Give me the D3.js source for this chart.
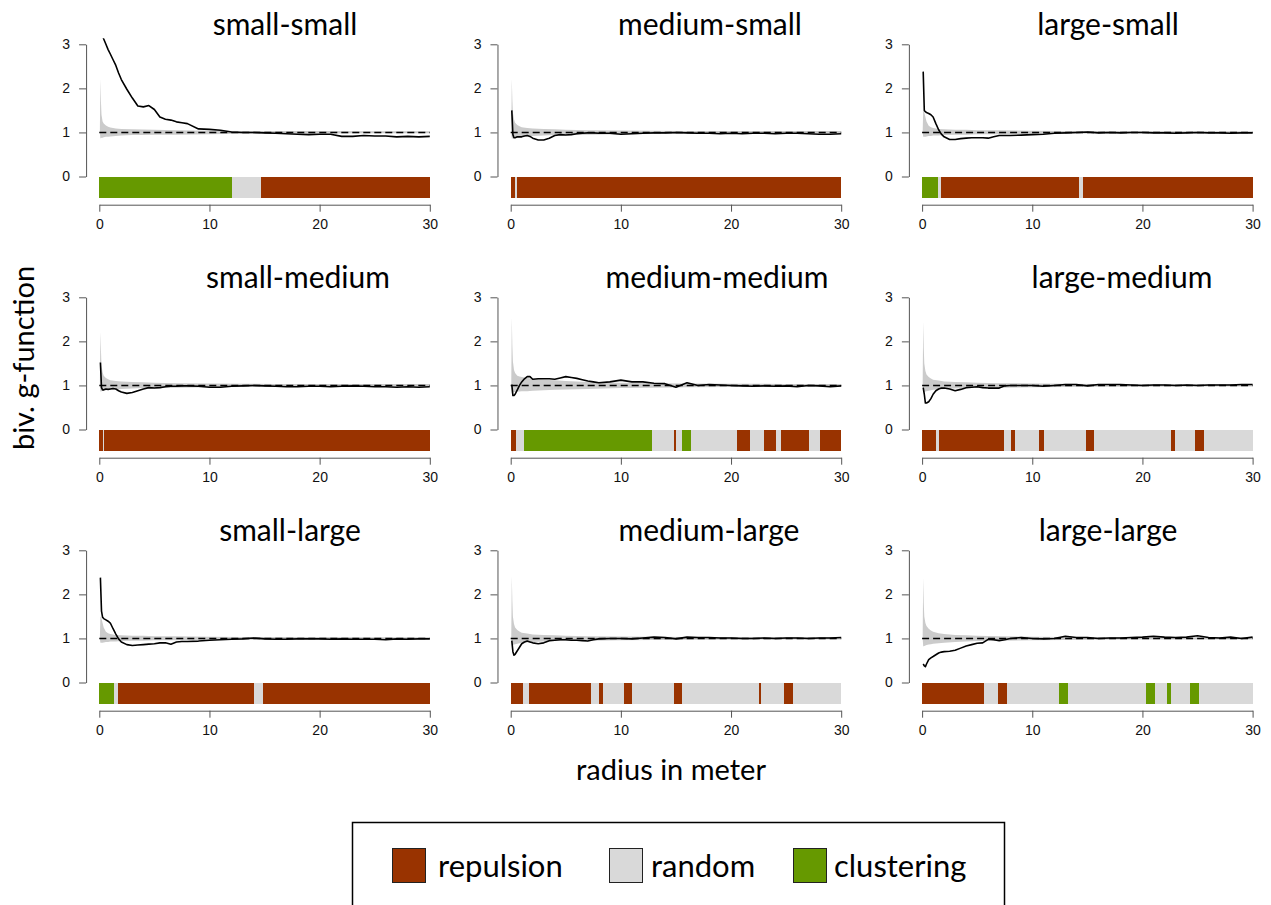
<!DOCTYPE html>
<html><head><meta charset="utf-8">
<script src="https://cdn.jsdelivr.net/npm/d3@7"></script>
<style>body{margin:0;background:#fff}</style>
</head><body><svg id="c" width="1271" height="905"></svg>
<script>
// ---------- DATA ----------
const panelNames = ["small-small","medium-small","large-small",
                    "small-medium","medium-medium","large-medium",
                    "small-large","medium-large","large-large"];
const yTicks = [0,1,2,3];
const xTicks = [0,10,20,30];
const legendLabels = ["repulsion","random","clustering"];

// radius grid for the observed g-function
const radius = [0.1,0.2,0.3,0.4,0.6,0.8,1,1.25,1.5,1.75,2,2.5,3,3.5,4,4.5,5,5.5,6,6.5,7,7.5,8,9,10,11,12,13,14,15,16,17,18,19,20,21,22,23,24,25,26,27,28,29,30];
const gSS = [3.5,3.35,3.2,3.12,3.0,2.88,2.78,2.65,2.52,2.35,2.2,1.98,1.78,1.6,1.58,1.61,1.52,1.35,1.3,1.28,1.24,1.22,1.2,1.08,1.07,1.05,1.01,1.0,1.0,0.99,0.98,0.97,0.96,0.95,0.96,0.96,0.91,0.91,0.93,0.92,0.92,0.9,0.91,0.9,0.91];
const gMS = [1.5,0.95,0.88,0.88,0.9,0.9,0.9,0.92,0.93,0.91,0.87,0.83,0.83,0.87,0.93,0.95,0.94,0.95,0.97,0.98,0.99,0.99,0.98,0.98,0.96,0.97,0.98,0.99,0.99,1.0,0.99,0.98,0.98,0.97,0.98,0.97,0.98,0.98,0.97,0.98,0.98,0.97,0.96,0.96,0.97];
const gLS = [2.38,1.5,1.47,1.45,1.43,1.4,1.35,1.2,1.06,0.96,0.9,0.84,0.84,0.86,0.87,0.88,0.88,0.88,0.87,0.9,0.93,0.93,0.93,0.94,0.95,0.96,0.98,0.99,1.0,1.01,0.99,1.0,0.99,1.0,1.0,0.99,0.99,0.98,0.99,1.0,0.99,0.99,0.98,0.99,0.99];
const gSM = [1.52,0.95,0.9,0.9,0.92,0.91,0.92,0.93,0.92,0.88,0.85,0.82,0.84,0.88,0.92,0.95,0.94,0.95,0.97,0.98,0.98,0.99,0.99,0.98,0.96,0.96,0.98,0.99,1.0,0.99,0.98,0.97,0.97,0.98,0.98,0.97,0.98,0.99,0.98,0.97,0.97,0.96,0.97,0.96,0.97];
const gMM = [1.02,0.77,0.77,0.8,0.9,1.0,1.08,1.15,1.2,1.2,1.14,1.15,1.15,1.15,1.14,1.17,1.2,1.18,1.16,1.13,1.1,1.08,1.06,1.08,1.12,1.08,1.08,1.05,1.04,0.96,1.06,1.0,1.02,1.01,1.0,0.99,0.98,0.99,0.98,0.99,0.97,1.0,0.99,0.97,0.99];
const gLM = [0.95,0.8,0.6,0.6,0.63,0.7,0.8,0.88,0.92,0.94,0.94,0.92,0.88,0.91,0.95,0.96,0.97,0.95,0.94,0.94,0.94,0.99,1.0,1.0,1.0,0.98,1.0,1.02,1.02,0.99,1.02,1.02,1.02,1.01,1.0,1.01,1.01,1.0,1.01,1.0,1.01,1.01,1.01,1.02,1.02];
const gSL = [2.38,1.62,1.48,1.45,1.42,1.39,1.35,1.22,1.1,0.99,0.92,0.86,0.84,0.85,0.86,0.87,0.88,0.9,0.9,0.87,0.92,0.93,0.93,0.94,0.96,0.97,0.98,0.99,1.01,0.99,0.98,0.98,0.99,0.99,0.99,0.98,0.99,0.98,0.98,0.98,0.97,0.99,0.98,0.99,0.99];
const gML = [0.95,0.7,0.62,0.64,0.72,0.8,0.88,0.92,0.94,0.92,0.9,0.88,0.9,0.95,0.96,0.97,0.97,0.96,0.96,0.95,0.94,0.97,0.99,1.0,1.0,0.99,1.01,1.03,1.02,0.99,1.03,1.02,1.02,1.01,1.01,1.0,1.0,1.01,1.0,1.01,1.01,1.0,1.01,1.01,1.02];
const gLL = [0.42,0.38,0.36,0.42,0.52,0.56,0.59,0.63,0.67,0.69,0.7,0.71,0.73,0.78,0.83,0.86,0.89,0.9,0.98,0.97,0.95,0.97,1.0,1.02,1.0,0.99,1.0,1.05,1.02,1.02,1.0,1.01,1.01,1.02,1.03,1.05,1.03,1.02,1.03,1.06,1.02,1.01,1.03,1.0,1.03];

// simulation envelope (upper / lower)
const envR = [0.05,0.1,0.15,0.2,0.3,0.4,0.6,0.8,1,1.5,2,3,4,5,7,10,13,16,20,25,30];
const hiSS = [1.0,2.22,1.7,1.4,1.25,1.2,1.16,1.13,1.11,1.09,1.08,1.07,1.065,1.06,1.05,1.04,1.035,1.03,1.03,1.025,1.025];
const loSS = [1.0,0.87,0.87,0.88,0.88,0.89,0.9,0.9,0.91,0.92,0.93,0.94,0.94,0.95,0.95,0.96,0.97,0.97,0.975,0.98,0.98];
const hiMS = [1.0,2.22,1.75,1.45,1.3,1.22,1.17,1.14,1.12,1.1,1.09,1.08,1.07,1.06,1.05,1.045,1.04,1.035,1.03,1.03,1.03];
const loMS = [1.0,0.86,0.86,0.87,0.88,0.88,0.89,0.9,0.9,0.91,0.92,0.93,0.94,0.94,0.95,0.96,0.965,0.97,0.97,0.975,0.975];
const hiLS = [1.0,1.5,1.48,1.45,1.35,1.25,1.15,1.12,1.1,1.08,1.07,1.06,1.06,1.05,1.05,1.04,1.035,1.03,1.03,1.025,1.025];
const loLS = [1.0,0.9,0.9,0.9,0.9,0.91,0.92,0.92,0.93,0.93,0.94,0.95,0.95,0.96,0.96,0.97,0.97,0.975,0.975,0.98,0.98];
const hiSM = [1.0,2.22,1.8,1.45,1.3,1.22,1.17,1.14,1.12,1.1,1.09,1.08,1.07,1.06,1.05,1.045,1.04,1.035,1.03,1.03,1.03];
const loSM = [1.0,0.86,0.86,0.87,0.88,0.88,0.89,0.9,0.9,0.91,0.92,0.93,0.94,0.94,0.95,0.96,0.965,0.97,0.97,0.975,0.975];
const hiMM = [1.0,2.55,1.9,1.55,1.35,1.28,1.22,1.2,1.19,1.17,1.15,1.13,1.12,1.1,1.08,1.06,1.05,1.045,1.04,1.035,1.035];
const loMM = [1.0,0.83,0.83,0.84,0.85,0.85,0.86,0.86,0.87,0.87,0.88,0.89,0.9,0.91,0.92,0.94,0.95,0.96,0.965,0.97,0.97];
const hiLM = [1.0,2.45,1.85,1.5,1.33,1.25,1.19,1.16,1.13,1.11,1.09,1.08,1.07,1.06,1.05,1.045,1.04,1.035,1.03,1.03,1.03];
const loLM = [1.0,0.84,0.84,0.85,0.86,0.87,0.88,0.89,0.9,0.91,0.92,0.93,0.94,0.94,0.95,0.96,0.965,0.97,0.97,0.975,0.975];
const hiSL = [1.0,1.5,1.48,1.45,1.35,1.25,1.15,1.12,1.1,1.08,1.07,1.06,1.06,1.05,1.05,1.04,1.035,1.03,1.03,1.025,1.025];
const loSL = [1.0,0.9,0.9,0.9,0.9,0.91,0.92,0.92,0.93,0.93,0.94,0.95,0.95,0.96,0.96,0.97,0.97,0.975,0.975,0.98,0.98];
const hiML = [1.0,2.42,1.85,1.5,1.33,1.25,1.19,1.16,1.13,1.11,1.09,1.08,1.07,1.06,1.05,1.045,1.04,1.035,1.03,1.03,1.03];
const loML = [1.0,0.84,0.84,0.85,0.86,0.87,0.88,0.89,0.9,0.91,0.92,0.93,0.94,0.94,0.95,0.96,0.965,0.97,0.97,0.975,0.975];
const hiLL = [1.0,2.38,1.8,1.5,1.35,1.28,1.22,1.18,1.15,1.12,1.1,1.08,1.07,1.06,1.05,1.04,1.035,1.03,1.03,1.025,1.025];
const loLL = [1.0,0.82,0.82,0.83,0.84,0.85,0.86,0.87,0.88,0.89,0.9,0.92,0.93,0.94,0.95,0.96,0.965,0.97,0.975,0.975,0.975];

// classification bars: [from, to, class]  r = repulsion, n = random, c = clustering
const segSS = [[0,12.04,"c"],[12.04,14.71,"n"],[14.71,30,"r"]];
const segMS = [[0,0.39,"r"],[0.39,0.54,"n"],[0.54,30,"r"]];
const segLS = [[0,1.42,"c"],[1.42,1.72,"n"],[1.72,14.26,"r"],[14.26,14.65,"n"],[14.65,30,"r"]];
const segSM = [[0,0.3,"r"],[0.3,0.45,"n"],[0.45,30,"r"]];
const segMM = [[0,0.48,"r"],[0.48,1.24,"n"],[1.24,12.81,"c"],[12.81,14.86,"n"],[14.86,14.98,"r"],[14.98,15.56,"n"],[15.56,16.37,"c"],[16.37,20.5,"n"],[20.5,21.7,"r"],[21.7,23.0,"n"],[23.0,24.06,"r"],[24.06,24.57,"n"],[24.57,27.07,"r"],[27.07,28.07,"n"],[28.07,30,"r"]];
const segLM = [[0,1.27,"r"],[1.27,1.57,"n"],[1.57,7.46,"r"],[7.46,8.06,"n"],[8.06,8.42,"r"],[8.42,10.62,"n"],[10.62,11.05,"r"],[11.05,14.91,"n"],[14.91,15.6,"r"],[15.6,22.55,"n"],[22.55,23.0,"r"],[23.0,24.81,"n"],[24.81,25.57,"r"],[25.57,30,"n"]];
const segSL = [[0,1.36,"c"],[1.36,1.67,"n"],[1.67,14.06,"r"],[14.06,14.9,"n"],[14.9,30,"r"]];
const segML = [[0,1.09,"r"],[1.09,1.69,"n"],[1.69,7.27,"r"],[7.27,8.02,"n"],[8.02,8.38,"r"],[8.38,10.28,"n"],[10.28,10.43,"r"],[10.43,10.49,"n"],[10.49,11.0,"r"],[11.0,14.86,"n"],[14.86,15.56,"r"],[15.56,22.55,"n"],[22.55,22.7,"r"],[22.7,24.81,"n"],[24.81,25.63,"r"],[25.63,30,"n"]];
const segLL = [[0,5.65,"r"],[5.65,6.86,"n"],[6.86,7.68,"r"],[7.68,12.46,"n"],[12.46,13.27,"c"],[13.27,20.32,"n"],[20.32,21.11,"c"],[21.11,22.2,"n"],[22.2,22.62,"c"],[22.62,24.31,"n"],[24.31,25.1,"c"],[25.1,30,"n"]];

const gSeries = [gSS,gMS,gLS,gSM,gMM,gLM,gSL,gML,gLL];
const hiSeries = [hiSS,hiMS,hiLS,hiSM,hiMM,hiLM,hiSL,hiML,hiLL];
const loSeries = [loSS,loMS,loLS,loSM,loMM,loLM,loSL,loML,loLL];
const segSeries = [segSS,segMS,segLS,segSM,segMM,segLM,segSL,segML,segLL];

// ---------- STYLE / LAYOUT ----------
const classColor = {r:"#993300", n:"#d9d9d9", c:"#669900"};
const legendColors = ["#993300","#d9d9d9","#669900"];
const titleCenters = [285,710,1108, 298,717,1122, 290,709,1108];
const titleFont = "Lato, 'Open Sans', sans-serif";
const tickFont = "'Liberation Sans', Arial, sans-serif";

const svg = d3.select("#c");

panelNames.forEach((name, i) => {
  const row = Math.floor(i / 3), col = i % 3;
  const x0 = 99.3 + col * 411.4;
  const y0 = 176.5 + row * 253;
  const x = d3.scaleLinear().domain([0, 30]).range([x0, x0 + 330.5]);
  const y = d3.scaleLinear().domain([0, 3]).range([y0, y0 - 132.2]);
  const g = svg.append("g");

  const clipId = "clip" + i;
  g.append("clipPath").attr("id", clipId).append("rect")
    .attr("x", x(-1.2)).attr("y", y(3.14))
    .attr("width", x(31.2) - x(-1.2)).attr("height", y(-0.64) - y(3.14));
  const pg = g.append("g").attr("clip-path", `url(#${clipId})`);

  // classification bar
  pg.selectAll("rect.seg").data(segSeries[i]).join("rect")
    .attr("class", "seg")
    .attr("x", d => x(d[0])).attr("width", d => x(d[1]) - x(d[0]))
    .attr("y", y(0)).attr("height", y(-0.48) - y(0))
    .attr("fill", d => classColor[d[2]])
    .attr("shape-rendering", "crispEdges");

  // envelope
  const hi = hiSeries[i], lo = loSeries[i];
  const area = d3.area()
    .x((d, k) => x(envR[k]))
    .y0((d, k) => y(lo[k]))
    .y1((d, k) => y(hi[k]))
    .curve(d3.curveLinear);
  pg.append("path").datum(envR).attr("d", area).attr("fill", "#cbcbcb");

  // reference line g = 1
  pg.append("line").attr("x1", x(0)).attr("x2", x(30))
    .attr("y1", y(1)).attr("y2", y(1))
    .attr("stroke", "#000").attr("stroke-width", 1.4)
    .attr("stroke-dasharray", "7,4");

  // observed g-function
  const gs = gSeries[i];
  const line = d3.line().x((d, k) => x(radius[k])).y((d, k) => y(gs[k]));
  pg.append("path").datum(radius).attr("d", line)
    .attr("fill", "none").attr("stroke", "#000").attr("stroke-width", 1.6)
    .attr("stroke-linejoin", "round");

  // axes
  const ay = g.append("g").attr("transform", `translate(${x(-1.2)},0)`)
    .call(d3.axisLeft(y).tickValues(yTicks).tickSize(7).tickSizeOuter(0).tickPadding(9).tickFormat(d3.format("d")));
  const ax = g.append("g").attr("transform", `translate(0,${y(-0.64)})`)
    .call(d3.axisBottom(x).tickValues(xTicks).tickSize(7).tickSizeOuter(0).tickPadding(7).tickFormat(d3.format("d")));
  [ay, ax].forEach(a => {
    a.selectAll("path,line").attr("stroke", "#555").attr("stroke-width", 1);
    a.selectAll("text").attr("font-family", tickFont).attr("font-size", 14).attr("fill", "#111");
  });

  // title
  g.append("text").attr("x", titleCenters[i]).attr("y", 35 + row * 253)
    .attr("text-anchor", "middle").attr("font-family", titleFont)
    .attr("font-size", 30).attr("fill", "#000").text(name);
});

// axis titles
svg.append("text").attr("transform", "translate(34,358) rotate(-90)")
  .attr("text-anchor", "middle").attr("font-family", titleFont)
  .attr("font-size", 29).text("biv. g-function");
svg.append("text").attr("x", 671).attr("y", 780)
  .attr("text-anchor", "middle").attr("font-family", titleFont)
  .attr("font-size", 29).text("radius in meter");

// legend
const lg = svg.append("g");
lg.append("rect").attr("x", 352.5).attr("y", 822.5).attr("width", 652).attr("height", 100)
  .attr("fill", "#fff").attr("stroke", "#000").attr("stroke-width", 1.5);
const legendX = [392, 609, 793];
const legendTextX = [438, 651, 834];
legendLabels.forEach((lab, k) => {
  lg.append("rect").attr("x", legendX[k] + 0.5).attr("y", 848.5).attr("width", 33).attr("height", 34)
    .attr("fill", legendColors[k]).attr("stroke", "#222").attr("stroke-width", 1);
  lg.append("text").attr("x", legendTextX[k]).attr("y", 877)
    .attr("font-family", titleFont).attr("font-size", 31).text(lab);
});
</script></body></html>
